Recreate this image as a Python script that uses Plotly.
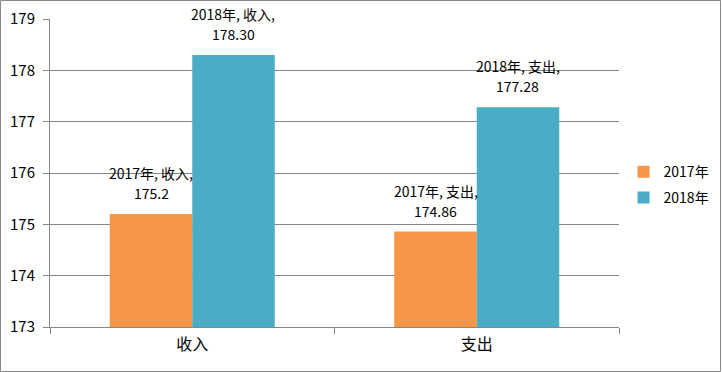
import plotly.graph_objects as go

categories = ["收入", "支出"]
series_names = ["2017年", "2018年"]
values_2017 = [175.2, 174.86]
values_2018 = [178.30, 177.28]
label_2017 = ["175.2", "174.86"]
label_2018 = ["178.30", "177.28"]
colors = ["#F79646", "#4BACC6"]

FONT = "Noto Sans CJK SC, Lato, sans-serif"

fig = go.Figure()
fig.add_trace(go.Bar(name=series_names[0], x=categories, y=values_2017,
                     marker=dict(color=colors[0], line=dict(width=0)),
                     legend="legend", hoverinfo="skip"))
fig.add_trace(go.Bar(name=series_names[1], x=categories, y=values_2018,
                     marker=dict(color=colors[1], line=dict(width=0)),
                     legend="legend2", hoverinfo="skip"))

annotations = []
for vals, labs, name, shift in [(values_2017, label_2017, series_names[0], -41),
                                (values_2018, label_2018, series_names[1], 41)]:
    for c, v, l in zip(categories, vals, labs):
        for txt, ys in [(f"{name}, {c},", 41), (l, 21)]:
            annotations.append(dict(
                x=c, y=v, xref="x", yref="y", xshift=shift, yshift=ys,
                text=txt, showarrow=False,
                xanchor="center", yanchor="middle",
                font=dict(family=FONT, size=14, color="#000000"),
            ))

legend_common = dict(xanchor="left", yanchor="middle",
                     font=dict(family=FONT, size=14), bgcolor="rgba(0,0,0,0)",
                     itemwidth=30, borderwidth=0)

fig.update_layout(
    template="none",
    width=722, height=372,
    margin=dict(l=50, r=103, t=19, b=45, pad=0, autoexpand=False),
    paper_bgcolor="white", plot_bgcolor="white",
    barmode="group", bargap=0.42, bargroupgap=0,
    font=dict(family=FONT, size=14, color="#000000"),
    showlegend=True,
    legend=dict(x=1.008, y=0.503, **legend_common),
    legend2=dict(x=1.008, y=0.419, **legend_common),
    annotations=annotations,
    shapes=[dict(type="rect", xref="paper", yref="paper",
                 x0=-49.5 / 569, x1=1 + 101.5 / 569,
                 y0=-44.5 / 308, y1=1 + 18.5 / 308,
                 line=dict(color="#888888", width=1), layer="below")],
)
fig.update_yaxes(range=[173, 179], dtick=1, showgrid=True, gridcolor="#868686",
                 gridwidth=1, showline=True, linecolor="#868686", linewidth=1,
                 ticks="outside", ticklen=6, tickcolor="#868686",
                 ticklabelstandoff=5, zeroline=False, automargin=False,
                 tickfont=dict(family=FONT, size=15))
fig.update_xaxes(showline=True, linecolor="#868686", linewidth=1,
                 ticks="outside", tickson="boundaries", ticklen=6,
                 tickcolor="#868686", showgrid=False, automargin=False,
                 ticklabelstandoff=3,
                 tickfont=dict(family=FONT, size=16))

fig.write_html("out.html", config={"displayModeBar": False},
               post_script="document.body.style.margin='0';")
